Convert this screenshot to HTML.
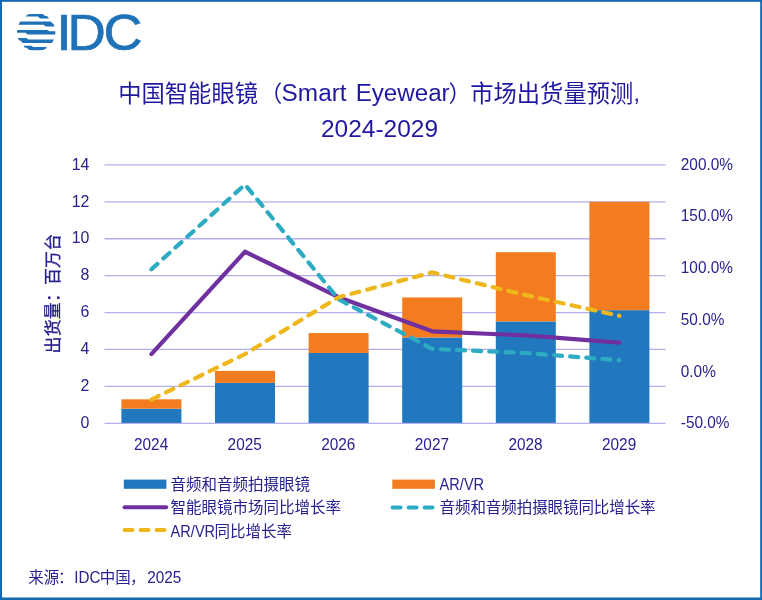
<!DOCTYPE html>
<html lang="zh-CN"><head><meta charset="utf-8"><title>IDC 中国智能眼镜市场出货量预测</title>
<style>
html,body{margin:0;padding:0;background:#fff;}
body{width:762px;height:600px;overflow:hidden;}
svg{display:block;will-change:transform;}
text{font-family:"Liberation Sans","Noto Sans CJK SC",sans-serif;fill:#27228F;}
.ttl text{fill:#1F18A0;}
</style></head><body>
<svg width="762" height="600" viewBox="0 0 762 600">
<rect x="0" y="0" width="762" height="600" fill="#fff"/>

<line x1="104.5" x2="665.5" y1="423.30" y2="423.30" stroke="#B5AEEE" stroke-width="1.3"/>
<line x1="104.5" x2="665.5" y1="386.39" y2="386.39" stroke="#B5AEEE" stroke-width="1.3"/>
<line x1="104.5" x2="665.5" y1="349.47" y2="349.47" stroke="#B5AEEE" stroke-width="1.3"/>
<line x1="104.5" x2="665.5" y1="312.56" y2="312.56" stroke="#B5AEEE" stroke-width="1.3"/>
<line x1="104.5" x2="665.5" y1="275.64" y2="275.64" stroke="#B5AEEE" stroke-width="1.3"/>
<line x1="104.5" x2="665.5" y1="238.73" y2="238.73" stroke="#B5AEEE" stroke-width="1.3"/>
<line x1="104.5" x2="665.5" y1="201.81" y2="201.81" stroke="#B5AEEE" stroke-width="1.3"/>
<line x1="104.5" x2="665.5" y1="164.90" y2="164.90" stroke="#B5AEEE" stroke-width="1.3"/>
<rect x="121.40" y="408.72" width="60" height="14.18" fill="#2178BE"/>
<rect x="121.40" y="399.31" width="60" height="9.41" fill="#F47C20"/>
<rect x="215.00" y="382.88" width="60" height="40.02" fill="#2178BE"/>
<rect x="215.00" y="370.88" width="60" height="12.00" fill="#F47C20"/>
<rect x="308.60" y="352.98" width="60" height="69.92" fill="#2178BE"/>
<rect x="308.60" y="333.04" width="60" height="19.93" fill="#F47C20"/>
<rect x="402.20" y="337.47" width="60" height="85.43" fill="#2178BE"/>
<rect x="402.20" y="297.42" width="60" height="40.05" fill="#F47C20"/>
<rect x="495.80" y="321.42" width="60" height="101.48" fill="#2178BE"/>
<rect x="495.80" y="252.20" width="60" height="69.21" fill="#F47C20"/>
<rect x="589.40" y="310.16" width="60" height="112.74" fill="#2178BE"/>
<rect x="589.40" y="201.81" width="60" height="108.34" fill="#F47C20"/>
<polyline points="151.40,354.05 245.00,251.72 338.60,297.20 432.20,331.31 525.80,335.44 619.40,342.68" fill="none" stroke="#7030A0" stroke-width="4.2" stroke-linejoin="round" stroke-linecap="round"/>
<polyline points="151.40,269.29 245.00,184.54 338.60,299.27 432.20,348.88 525.80,353.02 619.40,360.25" fill="none" stroke="#2DABC2" stroke-width="4.2" stroke-linejoin="round" stroke-linecap="round" stroke-dasharray="8.1 8.1"/>
<polyline points="151.40,399.53 245.00,354.05 338.60,297.20 432.20,272.39 525.80,295.13 619.40,315.81" fill="none" stroke="#EEB81C" stroke-width="4.2" stroke-linejoin="round" stroke-linecap="round" stroke-dasharray="8.1 8.1"/>
<text transform="translate(89.40,428.00) scale(0.95,1)" font-size="16.8" text-anchor="end">0</text>
<text transform="translate(89.40,391.09) scale(0.95,1)" font-size="16.8" text-anchor="end">2</text>
<text transform="translate(89.40,354.17) scale(0.95,1)" font-size="16.8" text-anchor="end">4</text>
<text transform="translate(89.40,317.26) scale(0.95,1)" font-size="16.8" text-anchor="end">6</text>
<text transform="translate(89.40,280.34) scale(0.95,1)" font-size="16.8" text-anchor="end">8</text>
<text transform="translate(89.40,243.43) scale(0.95,1)" font-size="16.8" text-anchor="end">10</text>
<text transform="translate(89.40,206.51) scale(0.95,1)" font-size="16.8" text-anchor="end">12</text>
<text transform="translate(89.40,169.60) scale(0.95,1)" font-size="16.8" text-anchor="end">14</text>
<text transform="translate(680.80,428.20) scale(0.915,1)" font-size="16.8" text-anchor="start">-50.0%</text>
<text transform="translate(680.80,376.52) scale(0.915,1)" font-size="16.8" text-anchor="start">0.0%</text>
<text transform="translate(680.80,324.84) scale(0.915,1)" font-size="16.8" text-anchor="start">50.0%</text>
<text transform="translate(680.80,273.16) scale(0.915,1)" font-size="16.8" text-anchor="start">100.0%</text>
<text transform="translate(680.80,221.48) scale(0.915,1)" font-size="16.8" text-anchor="start">150.0%</text>
<text transform="translate(680.80,169.80) scale(0.915,1)" font-size="16.8" text-anchor="start">200.0%</text>
<text transform="translate(151.10,450.30) scale(0.915,1)" font-size="16.8" text-anchor="middle">2024</text>
<text transform="translate(244.70,450.30) scale(0.915,1)" font-size="16.8" text-anchor="middle">2025</text>
<text transform="translate(338.30,450.30) scale(0.915,1)" font-size="16.8" text-anchor="middle">2026</text>
<text transform="translate(431.90,450.30) scale(0.915,1)" font-size="16.8" text-anchor="middle">2027</text>
<text transform="translate(525.50,450.30) scale(0.915,1)" font-size="16.8" text-anchor="middle">2028</text>
<text transform="translate(619.10,450.30) scale(0.915,1)" font-size="16.8" text-anchor="middle">2029</text>
<text transform="translate(59.3,293.6) rotate(-90)" font-size="17" text-anchor="middle" textLength="119.6" lengthAdjust="spacing" stroke="#27228F" stroke-width="0.3">出货量：百万台</text>
<g class="ttl">
<text y="101.5" font-size="23.3"><tspan x="118.2" textLength="139.8" lengthAdjust="spacing">中国智能眼镜</tspan><tspan x="259.5" font-size="22.8">（</tspan><tspan x="281.6" y="101" font-size="23" textLength="65.02" lengthAdjust="spacingAndGlyphs">Smart</tspan> <tspan x="355.7" y="101" font-size="23" textLength="93.96" lengthAdjust="spacingAndGlyphs">Eyewear</tspan><tspan x="448.5" y="101.5" font-size="22.8">）</tspan><tspan x="470.2" y="101.5" textLength="163.1" lengthAdjust="spacing">市场出货量预测</tspan><tspan x="633.5" y="101" font-size="23">,</tspan></text>
<text x="321" y="136.6" font-size="23" text-anchor="start" textLength="117" lengthAdjust="spacingAndGlyphs">2024-2029</text>
</g>
<rect x="123.8" y="479.6" width="42.6" height="9.2" fill="#2178BE"/>
<text x="170.6" y="489.7" font-size="15.5" text-anchor="start">音频和音频拍摄眼镜</text>
<rect x="392.3" y="479.6" width="42.6" height="9.2" fill="#F47C20"/>
<text transform="translate(439.60,489.60) scale(0.9,1)" font-size="16.2" text-anchor="start">AR/VR</text>
<line x1="124.6" x2="166.2" y1="507.2" y2="507.2" stroke="#7030A0" stroke-width="4" stroke-linecap="round"/>
<text x="170.6" y="513.4" font-size="15.5" text-anchor="start">智能眼镜市场同比增长率</text>
<line x1="392.6" x2="432.8" y1="507.4" y2="507.4" stroke="#2DABC2" stroke-width="4" stroke-linecap="round" stroke-dasharray="8 8"/>
<text x="439.6" y="513.4" font-size="15.5" text-anchor="start" textLength="216" lengthAdjust="spacing">音频和音频拍摄眼镜同比增长率</text>
<line x1="124.5" x2="164.7" y1="530.1" y2="530.1" stroke="#EEB81C" stroke-width="4" stroke-linecap="round" stroke-dasharray="8 8"/>
<text y="537" font-size="15.5"><tspan x="170.6" y="536.6" font-size="16.2" textLength="44.54" lengthAdjust="spacingAndGlyphs">AR/VR</tspan><tspan x="214.6" y="537">同比增长率</tspan></text>
<text y="583" font-size="15.5"><tspan x="28.2">来源</tspan><tspan x="58">：</tspan><tspan x="74.2" y="582.5" font-size="16.8" textLength="26.16" lengthAdjust="spacingAndGlyphs">IDC</tspan><tspan x="99.8" y="583">中国</tspan><tspan x="130">，</tspan><tspan x="147.2" y="582.5" font-size="16.8" textLength="34.17" lengthAdjust="spacingAndGlyphs">2025</tspan></text>
<g id="logo"><defs><clipPath id="gc"><circle cx="36.2" cy="32.05" r="19.2"/></clipPath></defs>
<g clip-path="url(#gc)" fill="#1F72B8">
<polygon points="25.90,14.00 43.00,14.00 45.08,15.90 48.60,15.90 48.60,18.40 40.10,18.40 38.02,16.60 25.90,16.60"/>
<polygon points="17.00,21.50 50.60,21.50 52.68,23.60 56.00,23.60 56.00,26.40 45.70,26.40 43.62,24.65 17.00,24.65"/>
<polygon points="15.00,29.90 47.40,29.90 49.48,31.30 57.00,31.30 57.00,34.50 27.50,34.50 25.42,32.70 15.00,32.70"/>
<polygon points="15.00,38.00 26.40,38.00 28.48,39.40 56.00,39.40 56.00,42.90 22.60,42.90 20.52,40.40 15.00,40.40"/>
<polygon points="24.00,45.70 31.30,45.70 33.38,47.10 46.60,47.10 46.60,50.20 28.90,50.20 26.82,47.80 24.00,47.80"/>
</g>
<text y="49.7" font-size="50" style="fill:#1F72B8;stroke:#1F72B8;stroke-width:0.7"><tspan x="56.2" textLength="15.56" lengthAdjust="spacingAndGlyphs">I</tspan><tspan x="67.4" textLength="38.28" lengthAdjust="spacingAndGlyphs">D</tspan><tspan x="103.5" textLength="39" lengthAdjust="spacingAndGlyphs">C</tspan></text>
</g>
<rect x="0" y="0" width="762" height="1.8" fill="#1567B0"/>
<rect x="0" y="597.5" width="762" height="2.5" fill="#1567B0"/>
<rect x="0" y="0" width="2" height="600" fill="#1567B0"/>
<rect x="760.2" y="0" width="1.8" height="600" fill="#1567B0"/>
</svg></body></html>
